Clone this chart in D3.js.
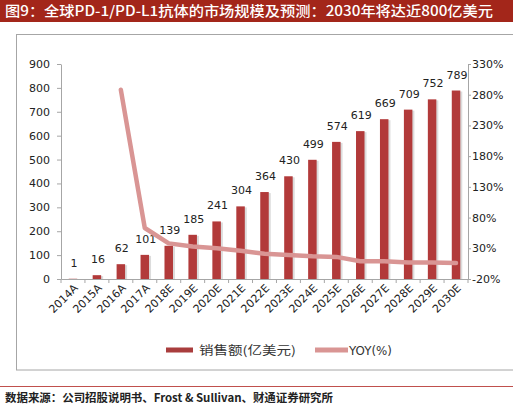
<!DOCTYPE html>
<html><head><meta charset="utf-8">
<script src="https://cdn.jsdelivr.net/npm/d3@7"></script>
<style>body{margin:0;background:#fff}svg{display:block}</style>
</head><body><svg id="c" width="513" height="408"></svg>
<script>
const categories = ["2014A","2015A","2016A","2017A","2018E","2019E","2020E","2021E","2022E","2023E","2024E","2025E","2026E","2027E","2028E","2029E","2030E"];
const sales = [1,16,62,101,139,185,241,304,364,430,499,574,619,669,709,752,789];
const yoyCategories = ["2016A","2017A","2018E","2019E","2020E","2021E","2022E","2023E","2024E","2025E","2026E","2027E","2028E","2029E","2030E"];
const yoy = [288,63,38,33,30,26,21,19,17,16,9,9,7,7,6];
const leftTicks = [0,100,200,300,400,500,600,700,800,900];
const rightTicks = [-20,30,80,130,180,230,280,330];
const titleText = "图9：全球PD-1/PD-L1抗体的市场规模及预测：2030年将达近800亿美元";
const sourceText = "数据来源：公司招股说明书、Frost & Sullivan、财通证券研究所";
const legendLabels = ["销售额(亿美元)","YOY(%)"];

const svg = d3.select("#c");
const FONT = "'DejaVu Sans', sans-serif";
const CJK = "'Noto Sans CJK SC', sans-serif";
const axisColor = "#a6a6a6";

// title band
svg.append("rect").attr("x",0).attr("y",0).attr("width",513).attr("height",22).attr("fill","#a3261a");
svg.append("text").attr("x",5).attr("y",16).attr("fill","#fff").attr("font-family",CJK)
  .attr("font-weight","500").attr("font-size",14).attr("textLength",488).attr("lengthAdjust","spacingAndGlyphs")
  .text(titleText);

// frame
svg.append("rect").attr("x",16.5).attr("y",34.5).attr("width",520).attr("height",335.5)
  .attr("fill","none").attr("stroke","#a6a6a6");

const x = d3.scaleBand().domain(categories).range([61,468]).paddingInner(0.645).paddingOuter(0.3225);
const yL = d3.scaleLinear().domain([0,900]).range([279,64]);
const yR = d3.scaleLinear().domain([-20,330]).range([279,64]);

// left axis
const gL = svg.append("g").attr("transform","translate(61,0)")
  .call(d3.axisLeft(yL).tickValues(leftTicks).tickSize(4).tickSizeOuter(0).tickPadding(7));
// right axis
const gR = svg.append("g").attr("transform","translate(468,0)")
  .call(d3.axisRight(yR).tickValues(rightTicks).tickSize(3).tickSizeOuter(0).tickPadding(1).tickFormat(d=>d+"%"));
// bottom axis
const gB = svg.append("g").attr("transform","translate(0,279)")
  .call(d3.axisBottom(x).tickSize(0).tickSizeOuter(0));
gB.selectAll(".tick text").attr("x",0).attr("y",0).attr("dy","0.35em")
  .attr("transform","translate(3,7) rotate(-45)").style("text-anchor","end");
// category boundary ticks
const bounds = categories.map(c => x(c) - x.step()*x.paddingInner()/2).concat([x(categories[categories.length-1]) + x.bandwidth() + x.step()*x.paddingInner()/2]);
svg.append("g").selectAll("line").data(bounds).join("line")
  .attr("x1",d=>d).attr("x2",d=>d).attr("y1",279).attr("y2",283).attr("stroke",axisColor);

[gL,gR,gB].forEach(g=>{
  g.selectAll(".domain").attr("stroke",axisColor);
  g.selectAll(".tick line").attr("stroke",axisColor);
  g.selectAll(".tick text").attr("fill","#222").attr("font-family",FONT).attr("font-size",11);
});

// bars shadow + bars
svg.append("g").selectAll("rect").data(sales).join("rect")
  .attr("x",(d,i)=>x(categories[i])+2).attr("y",d=>yL(d)+1).attr("width",x.bandwidth())
  .attr("height",d=>279-yL(d)-1).attr("fill","#dcdcdc");
svg.append("g").selectAll("rect").data(sales).join("rect")
  .attr("x",(d,i)=>x(categories[i])).attr("y",d=>yL(d)).attr("width",x.bandwidth())
  .attr("height",d=>279-yL(d)).attr("fill","#b23a3a");

// labels
svg.append("g").selectAll("text").data(sales).join("text")
  .attr("x",(d,i)=>x(categories[i])+x.bandwidth()/2+1).attr("y",d=>yL(d)-12)
  .attr("text-anchor","middle").attr("font-family",FONT).attr("font-size",11).attr("fill","#222")
  .text(d=>d);

// YOY line
const line = d3.line().x((d,i)=>x(yoyCategories[i])+x.bandwidth()/2).y(d=>yR(d));
svg.append("path").datum(yoy).attr("d",line).attr("fill","none").attr("stroke","#d99594")
  .attr("stroke-width",4.5).attr("stroke-linejoin","round").attr("stroke-linecap","round");

// legend
svg.append("rect").attr("x",166).attr("y",347.5).attr("width",27).attr("height",5).attr("fill","#a93d3d");
svg.append("text").attr("x",199).attr("y",354.5).attr("font-family",CJK).attr("font-size",12).attr("fill","#333")
  .attr("textLength",97).attr("lengthAdjust","spacingAndGlyphs").text(legendLabels[0]);
svg.append("rect").attr("x",315).attr("y",347.5).attr("width",33).attr("height",5).attr("fill","#d99594");
svg.append("text").attr("x",349).attr("y",354.5).attr("font-family",FONT).attr("font-size",12).attr("fill","#333")
  .attr("textLength",43).attr("lengthAdjust","spacingAndGlyphs").text(legendLabels[1]);

// footer
svg.append("line").attr("x1",0).attr("x2",513).attr("y1",386.5).attr("y2",386.5).attr("stroke","#c0504d");
svg.append("text").attr("x",5).attr("y",402).attr("font-family",CJK).attr("font-weight","bold").attr("font-size",11)
  .attr("fill","#222").attr("textLength",328).attr("lengthAdjust","spacingAndGlyphs").text(sourceText);
</script></body></html>
